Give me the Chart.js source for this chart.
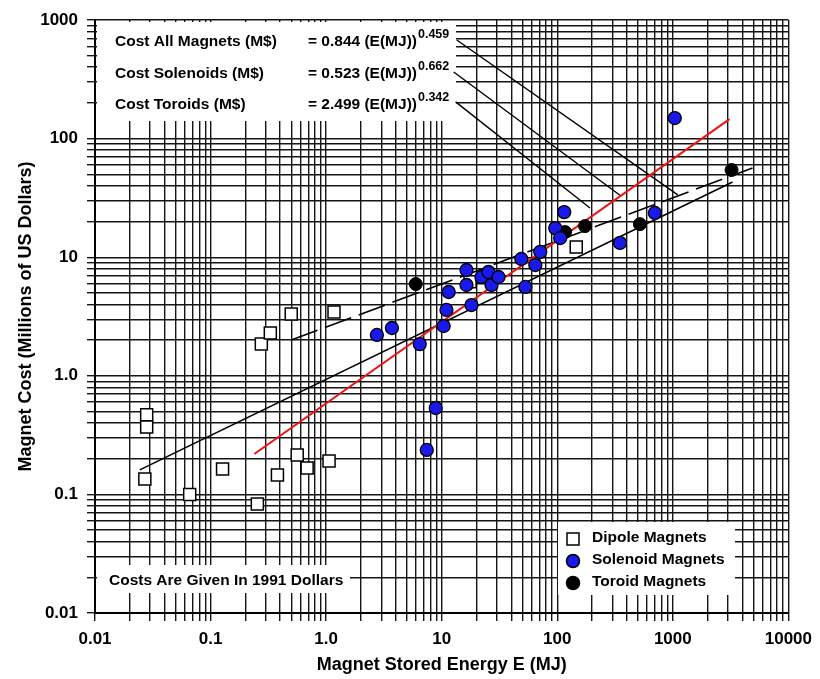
<!DOCTYPE html>
<html>
<head>
<meta charset="utf-8">
<script src="https://cdn.jsdelivr.net/npm/chart.js@4/dist/chart.umd.min.js"></script>
<style>
  html, body { margin: 0; padding: 0; background: #fff; }
  #wrap { width: 820px; height: 679px; position: relative; }
</style>
</head>
<body>
<div id="wrap"><canvas id="c" width="820" height="679"></canvas></div>
<script>
// ---------------- DATA ----------------
const dipoleEnergy = [0.028, 0.028, 0.027, 0.066, 0.127, 0.254, 0.379, 0.562, 0.685, 1.06, 0.275, 0.329, 0.499, 1.17, 146, 17.6];
const dipoleCost   = [0.47, 0.37, 0.135, 0.10, 0.164, 0.083, 0.146, 0.215, 0.167, 0.191, 1.85, 2.30, 3.32, 3.45, 12.2, 6.2];

const solenoidEnergy = [2.75, 3.71, 6.46, 8.88, 7.43, 10.4, 11.0, 11.5, 16.4, 16.4, 18.1, 22.1, 25.4, 27.0, 31.0, 48.9, 53.0, 64.6, 71.3, 96.1, 106, 115, 349, 700, 1040];
const solenoidCost   = [2.21, 2.53, 1.85, 0.535, 0.237, 2.63, 3.59, 5.09, 7.80, 5.83, 3.95, 6.81, 7.5, 5.83, 6.81, 9.66, 5.61, 8.59, 11.1, 17.6, 14.5, 24.0, 13.2, 23.6, 149];

const toroidEnergy = [5.97, 117, 174, 519, 3226];
const toroidCost   = [5.94, 16.3, 18.3, 19.0, 54.4];

// fitted lines (end points)
const allFitEnergy = [0.0244, 3290];
const allFitCost   = [0.161, 43.0];
const solFitEnergy = [0.239, 3098];
const solFitCost   = [0.219, 146];
const torFitEnergy = [0.499, 4893];
const torFitCost   = [2.00, 56.5];

// leader lines from the formula labels
const leaderAllEnergy = [13.5, 1104];
const leaderAllCost   = [678, 33.5];
const leaderSolEnergy = [12.7, 356];
const leaderSolCost   = [364, 32.8];
const leaderTorEnergy = [13.2, 192];
const leaderTorCost   = [204, 26.0];

// axes
const xDecades = [0.01, 0.1, 1, 10, 100, 1000, 10000];
const xTickLabels = ['0.01', '0.1', '1.0', '10', '100', '1000', '10000'];
const yDecades = [0.01, 0.1, 1, 10, 100, 1000];
const yTickLabels = ['0.01', '0.1', '1.0', '10', '100', '1000'];

const xTitle = 'Magnet Stored Energy E (MJ)';
const yTitle = 'Magnet Cost (Millions of US Dollars)';

const fitLabels = ['Cost All Magnets (M$)', 'Cost Solenoids (M$)', 'Cost Toroids (M$)'];
const fitFormulas = ['= 0.844 (E(MJ))', '= 0.523 (E(MJ))', '= 2.499 (E(MJ))'];
const fitExponents = ['0.459', '0.662', '0.342'];
const noteText = 'Costs Are Given In 1991 Dollars';
const legendLabels = ['Dipole Magnets', 'Solenoid Magnets', 'Toroid Magnets'];

// ---------------- helpers ----------------
const pts = (xs, ys) => xs.map((x, i) => ({x: x, y: ys[i]}));
function minorTicks(decades) {
  const out = [];
  for (let i = 0; i < decades.length; i++) {
    const d = decades[i];
    if (i === decades.length - 1) { out.push({value: d}); break; }
    for (let m = 1; m <= 9; m++) out.push({value: d * m});
  }
  return out;
}
function decadeLabel(v, decades, labels) {
  for (let i = 0; i < decades.length; i++) {
    if (Math.abs(Math.log10(v) - Math.log10(decades[i])) < 1e-6) return labels[i];
  }
  return '';
}

const FONT = "'Liberation Sans', Arial, Helvetica, sans-serif";
const BLUE = 'rgb(25,25,235)';

// white boxes behind the annotations (relative to chart area)
const whiteBoxes = [
  [2, 2, 359, 99],
  [2, 545, 253, 28],
  [463, 502, 177, 73]
];

const annotPlugin = {
  id: 'annot',
  beforeDatasetsDraw(chart) {
    const {ctx, chartArea: a} = chart;
    ctx.save();
    ctx.fillStyle = '#fff';
    for (const b of whiteBoxes) ctx.fillRect(a.left + b[0], a.top + b[1], b[2], b[3]);
    ctx.restore();
  },
  afterDatasetsDraw(chart) {
    const {ctx, chartArea: a} = chart;
    ctx.save();
    ctx.fillStyle = '#000';
    ctx.textBaseline = 'middle';
    ctx.textAlign = 'left';
    // formula block
    const rowY = [22, 54, 85];
    for (let i = 0; i < 3; i++) {
      const y = a.top + rowY[i];
      ctx.font = "bold 15.5px " + FONT;
      ctx.fillText(fitLabels[i], a.left + 20, y);
      ctx.fillText(fitFormulas[i], a.left + 213, y);
      const w = ctx.measureText(fitFormulas[i]).width;
      ctx.font = "bold 12.5px " + FONT;
      ctx.fillText(fitExponents[i], a.left + 213 + w + 1, y - 7);
    }
    // note
    ctx.font = "bold 15.5px " + FONT;
    ctx.fillText(noteText, a.left + 14, a.top + 561);
    // legend
    const legY = [518, 540, 562];
    for (let i = 0; i < 3; i++) {
      const y = a.top + legY[i];
      const mx = a.left + 478;
      ctx.lineWidth = 1.5;
      ctx.strokeStyle = '#000';
      if (i === 0) {
        ctx.fillStyle = '#fff';
        ctx.fillRect(mx - 6, y - 5, 12, 12);
        ctx.strokeRect(mx - 6, y - 5, 12, 12);
      } else {
        ctx.beginPath();
        ctx.arc(mx, y + 1, 6.5, 0, Math.PI * 2);
        ctx.fillStyle = i === 1 ? BLUE : '#000';
        ctx.fill();
        ctx.stroke();
      }
      ctx.fillStyle = '#000';
      ctx.font = "bold 15.5px " + FONT;
      ctx.fillText(legendLabels[i], a.left + 497, y);
    }
    ctx.restore();
  }
};

const lineDs = (label, xs, ys, color, width, dash) => ({
  label: label,
  data: pts(xs, ys),
  showLine: true,
  borderColor: color,
  borderWidth: width,
  borderDash: dash || [],
  pointRadius: 0,
  pointHoverRadius: 0,
  fill: false
});

const chart = new Chart(document.getElementById('c'), {
  type: 'scatter',
  data: {
    datasets: [
      {
        label: 'Solenoid Magnets',
        data: pts(solenoidEnergy, solenoidCost),
        pointStyle: 'circle', pointRadius: 6.5,
        backgroundColor: BLUE, borderColor: '#000', borderWidth: 1.3
      },
      {
        label: 'Toroid Magnets',
        data: pts(toroidEnergy, toroidCost),
        pointStyle: 'circle', pointRadius: 6.5,
        backgroundColor: '#000', borderColor: '#000', borderWidth: 1
      },
      {
        label: 'Dipole Magnets',
        data: pts(dipoleEnergy, dipoleCost),
        pointStyle: 'rect', pointRadius: 8.5,
        backgroundColor: '#fff', borderColor: '#000', borderWidth: 1.5
      },
      lineDs('Solenoid fit', solFitEnergy, solFitCost, 'rgb(235,20,20)', 2),
      lineDs('All magnets fit', allFitEnergy, allFitCost, '#000', 1.6),
      lineDs('Toroid fit', torFitEnergy, torFitCost, '#000', 1.6, [28, 8]),
      lineDs('leader all', leaderAllEnergy, leaderAllCost, '#000', 1.4),
      lineDs('leader sol', leaderSolEnergy, leaderSolCost, '#000', 1.4),
      lineDs('leader tor', leaderTorEnergy, leaderTorCost, '#000', 1.4)
    ]
  },
  options: {
    responsive: false,
    animation: false,
    devicePixelRatio: 1,
    layout: { padding: { top: 20, right: 29, left: 0, bottom: 0 } },
    plugins: { legend: { display: false }, tooltip: { enabled: false } },
    scales: {
      x: {
        type: 'logarithmic', position: 'bottom', min: 0.01, max: 10000,
        afterBuildTicks: (s) => { s.ticks = minorTicks(xDecades); },
        afterFit: (s) => { s.height = 66; },
        ticks: {
          autoSkip: false, maxRotation: 0, minRotation: 0, padding: 8, color: '#000',
          font: { family: FONT, size: 17, weight: 'bold' },
          callback: (v) => decadeLabel(v, xDecades, xTickLabels)
        },
        grid: { color: '#151515', lineWidth: 1.4, tickLength: 8, drawTicks: true },
        border: { color: '#000', width: 2 },
        title: {
          display: true, text: xTitle, color: '#000',
          font: { family: FONT, size: 18, weight: 'bold' },
          padding: { top: 0, bottom: 3 }
        }
      },
      y: {
        type: 'logarithmic', position: 'left', min: 0.01, max: 1000,
        afterBuildTicks: (s) => { s.ticks = minorTicks(yDecades); },
        afterFit: (s) => { s.width = 95; },
        ticks: {
          autoSkip: false, padding: 9, color: '#000',
          font: { family: FONT, size: 17, weight: 'bold' },
          callback: (v) => decadeLabel(v, yDecades, yTickLabels)
        },
        grid: { color: '#151515', lineWidth: 1.4, tickLength: 8, drawTicks: true },
        border: { color: '#000', width: 2 },
        title: {
          display: true, text: yTitle, color: '#000',
          font: { family: FONT, size: 18, weight: 'bold' },
          padding: { top: 15, bottom: 0 }
        }
      }
    }
  },
  plugins: [annotPlugin]
});
</script>
</body>
</html>
